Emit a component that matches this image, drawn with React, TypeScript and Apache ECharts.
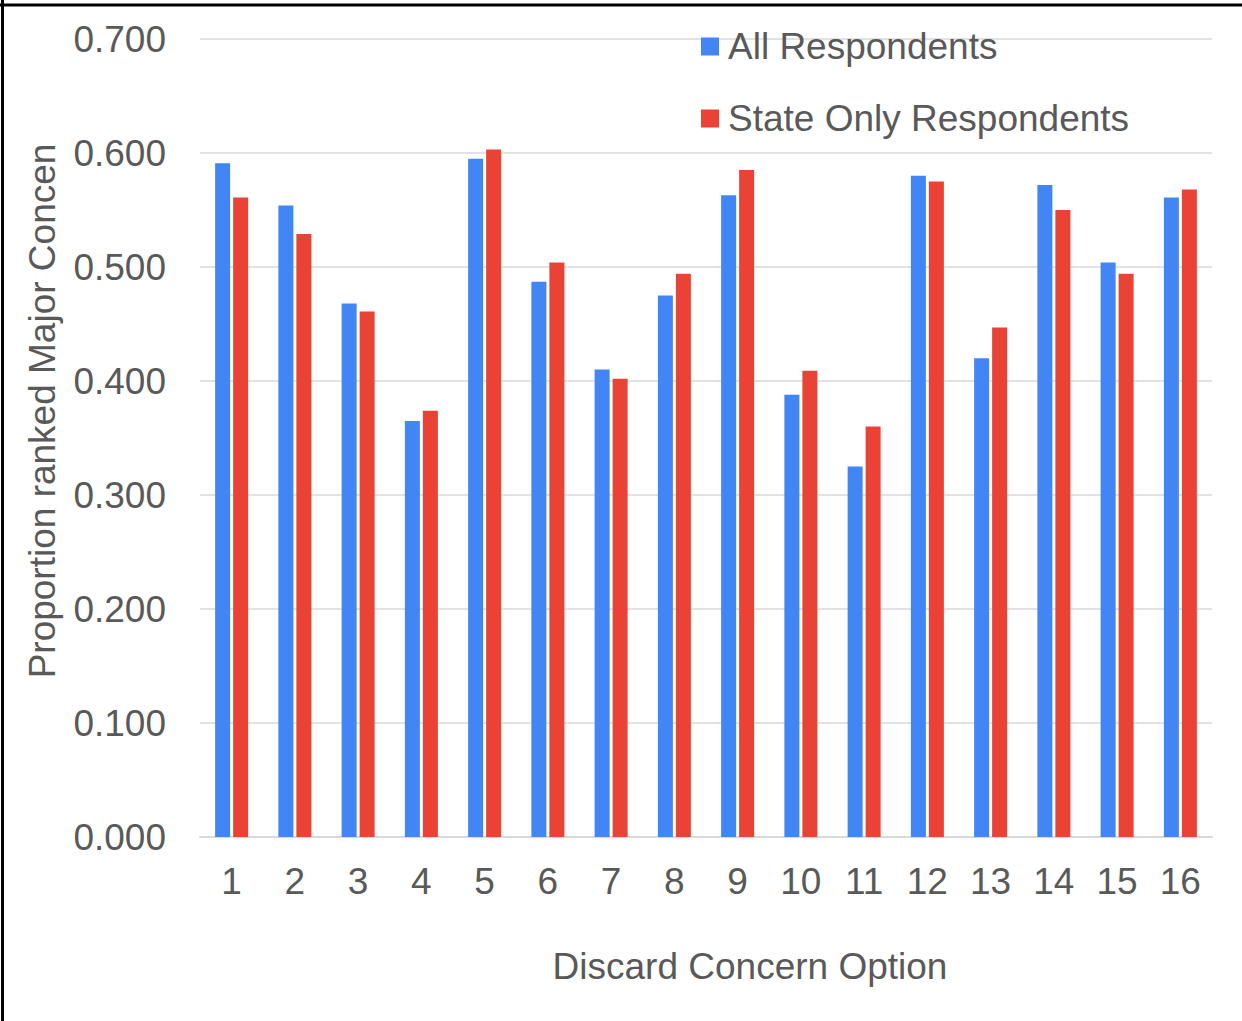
import React, { useEffect, useRef } from "react";
import * as echarts from "echarts";

const categories = ["1", "2", "3", "4", "5", "6", "7", "8", "9", "10", "11", "12", "13", "14", "15", "16"];
const allRespondents = [0.591, 0.554, 0.468, 0.365, 0.595, 0.487, 0.410, 0.475, 0.563, 0.388, 0.325, 0.580, 0.420, 0.572, 0.504, 0.561];
const stateOnly = [0.561, 0.529, 0.461, 0.374, 0.603, 0.504, 0.402, 0.494, 0.585, 0.409, 0.360, 0.575, 0.447, 0.550, 0.494, 0.568];
const seriesNames = ["All Respondents", "State Only Respondents"];
const xTitle = "Discard Concern Option";
const yTitle = "Proportion ranked Major Concen";

const FONT = "'Liberation Sans', Arial, sans-serif";
const TEXT = "#595959";

export default function App() {
  const ref = useRef<HTMLDivElement>(null);
  useEffect(() => {
    if (!ref.current) return;
    const chart = echarts.init(ref.current, null, { renderer: "svg" });
    chart.setOption({
      animation: false,
      backgroundColor: "#ffffff",
      textStyle: { fontFamily: FONT },
      grid: { left: 200, right: 30, top: 39, bottom: 184, containLabel: false },
      legend: {
        orient: "vertical",
        left: 701,
        top: 28,
        padding: 0,
        itemWidth: 18,
        itemHeight: 18,
        itemGap: 35,
        icon: "rect",
        textStyle: { fontSize: 37, color: TEXT, fontFamily: FONT, padding: [0, 0, 0, 4] },
        data: seriesNames,
      },
      xAxis: {
        type: "category",
        data: categories,
        axisTick: { show: false },
        axisLine: { lineStyle: { color: "#d9d9d9", width: 2 } },
        axisLabel: { fontSize: 37, color: TEXT, margin: 26, fontFamily: FONT },
      },
      yAxis: {
        type: "value",
        min: 0,
        max: 0.7,
        interval: 0.1,
        axisLine: { show: false },
        axisTick: { show: false },
        splitLine: { lineStyle: { color: "#d9d9d9", width: 1.5 } },
        axisLabel: {
          fontSize: 37,
          color: TEXT,
          margin: 34,
          fontFamily: FONT,
          formatter: (v: number) => v.toFixed(3),
        },
      },
      series: [
        {
          name: seriesNames[0],
          type: "bar",
          data: allRespondents,
          itemStyle: { color: "#4285F4" },
          barWidth: 15,
          barGap: "20%",
        },
        {
          name: seriesNames[1],
          type: "bar",
          data: stateOnly,
          itemStyle: { color: "#EA4335" },
          barWidth: 15,
          barGap: "20%",
        },
      ],
      graphic: [
        {
          type: "text",
          x: 42,
          y: 411,
          rotation: Math.PI / 2,
          style: {
            text: yTitle,
            fontSize: 37,
            fill: TEXT,
            fontFamily: FONT,
            textAlign: "center",
            textVerticalAlign: "middle",
          },
        },
        {
          type: "text",
          x: 750,
          y: 966,
          style: {
            text: xTitle,
            fontSize: 37,
            fill: TEXT,
            fontFamily: FONT,
            textAlign: "center",
            textVerticalAlign: "middle",
          },
        },
        {
          type: "line",
          shape: { x1: 0, y1: 5, x2: 1242, y2: 5 },
          style: { stroke: "#000000", lineWidth: 3 },
        },
        {
          type: "line",
          shape: { x1: 2.5, y1: 0, x2: 2.5, y2: 1021 },
          style: { stroke: "#000000", lineWidth: 3 },
        },
      ],
    });
    return () => chart.dispose();
  }, []);
  return (
    <div
      ref={ref}
      style={{ position: "absolute", left: 0, top: 0, width: 1242, height: 1021 }}
    />
  );
}
